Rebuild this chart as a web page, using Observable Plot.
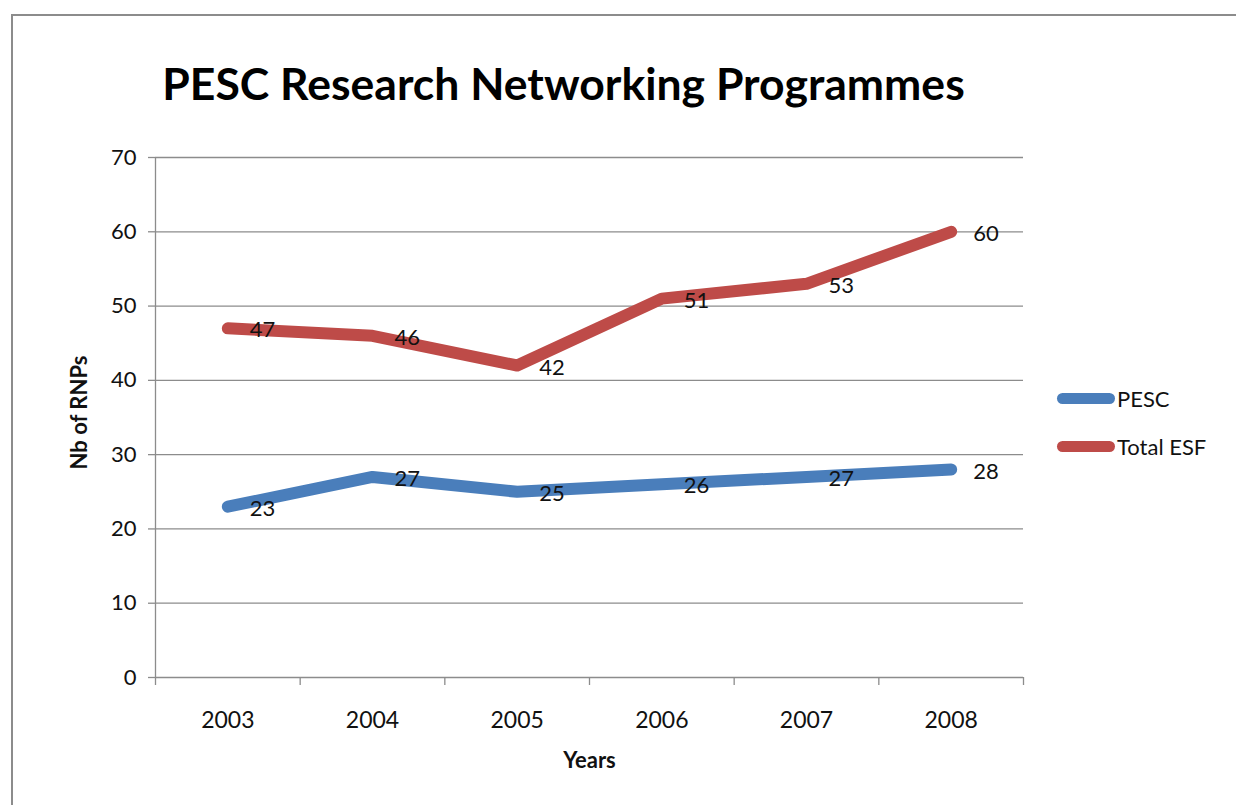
<!DOCTYPE html>
<html>
<head>
<meta charset="utf-8">
<script src="https://cdn.jsdelivr.net/npm/d3@7"></script>
<script src="https://cdn.jsdelivr.net/npm/@observablehq/plot@0.6"></script>
<style>
  html, body { margin: 0; padding: 0; background: #fff; overflow: hidden; }
  #wrap { position: relative; width: 1236px; height: 805px; font-family: Lato, "Open Sans", sans-serif; }
  #frame { position: absolute; left: 11px; top: 14px; width: 1300px; height: 900px; border: 2px solid #8c8c8c; box-sizing: border-box; }
  #chart { position: absolute; left: 0; top: 0; }
  .leg { position: absolute; left: 1057px; height: 20px; display: flex; align-items: center; font-size: 22px; color: #111; }
  .sw { width: 58px; height: 11px; border-radius: 6px; margin-right: 2px; }
</style>
</head>
<body>
<div id="wrap">
  <div id="frame"></div>
  <div id="chart"></div>
  <div id="legend"></div>
</div>
<script>
const years = [2003, 2004, 2005, 2006, 2007, 2008];
const pesc = [23, 27, 25, 26, 27, 28];
const totalEsf = [47, 46, 42, 51, 53, 60];
const seriesNames = ["PESC", "Total ESF"];
const seriesColors = ["#4a7ebb", "#be4b48"];
const yTicks = [0, 10, 20, 30, 40, 50, 60, 70];
const title = "PESC Research Networking Programmes";
const xTitle = "Years";
const yTitle = "Nb of RNPs";

const rows = [];
years.forEach((yr, i) => {
  rows.push({year: yr, value: pesc[i], series: seriesNames[0]});
  rows.push({year: yr, value: totalEsf[i], series: seriesNames[1]});
});
const edges = d3.range(years[0] - 0.5, years[years.length - 1] + 1, 1);
const grid = "#8c8c8c";
const font = "Lato, 'Open Sans', sans-serif";

const chart = Plot.plot({
  width: 1236,
  height: 805,
  marginLeft: 155,
  marginRight: 213,
  marginTop: 157,
  marginBottom: 128,
  style: {fontFamily: font, color: "#111", background: "transparent", overflow: "visible"},
  x: {type: "linear", domain: [edges[0], edges[edges.length - 1]]},
  y: {domain: [0, 70]},
  color: {domain: seriesNames, range: seriesColors},
  marks: [
    Plot.gridY(yTicks.slice(1), {stroke: grid, strokeOpacity: 1, strokeWidth: 1.3}),
    Plot.ruleX([edges[0]], {stroke: grid, strokeWidth: 1.3}),
    Plot.ruleY([0], {stroke: grid, strokeWidth: 1.3}),
    Plot.axisY({ticks: yTicks, tickSize: 7, tickPadding: 12, stroke: grid, strokeWidth: 1.3, fontSize: 22, label: null, tickFormat: d3.format("d")}),
    Plot.axisX({ticks: edges, tickSize: 8, stroke: grid, strokeWidth: 1.3, tickFormat: () => "", label: null}),
    Plot.axisX({ticks: years, tickSize: 0, tickPadding: 34, fontSize: 23, tickFormat: d3.format("d"), label: null}),
    Plot.line(rows, {x: "year", y: "value", z: "series", stroke: "series", strokeWidth: 12, strokeLinecap: "round", strokeLinejoin: "round"}),
    Plot.text(rows, {x: "year", y: "value", text: d => String(d.value), textAnchor: "start", dx: 22, dy: 2, fontSize: 22, fill: "#111"}),
    Plot.text([title], {frameAnchor: "top", lineAnchor: "middle", dx: -26, dy: -72, fontSize: 44.5, fontWeight: "bold", fill: "#000"}),
    Plot.text([xTitle], {frameAnchor: "bottom", lineAnchor: "middle", dy: 83, fontSize: 22, fontWeight: "bold", fill: "#111"}),
    Plot.text([yTitle], {frameAnchor: "left", textAnchor: "middle", lineAnchor: "middle", dx: -76, dy: -5, rotate: -90, fontSize: 22, fontWeight: "bold", fill: "#111"})
  ]
});
document.getElementById("chart").appendChild(chart);

const legend = document.getElementById("legend");
const legendTops = [388, 436];
seriesNames.forEach((name, i) => {
  const row = document.createElement("div");
  row.className = "leg";
  row.style.top = legendTops[i] + "px";
  const sw = document.createElement("div");
  sw.className = "sw";
  sw.style.background = seriesColors[i];
  row.appendChild(sw);
  row.appendChild(document.createTextNode(name));
  legend.appendChild(row);
});
</script>
</body>
</html>
